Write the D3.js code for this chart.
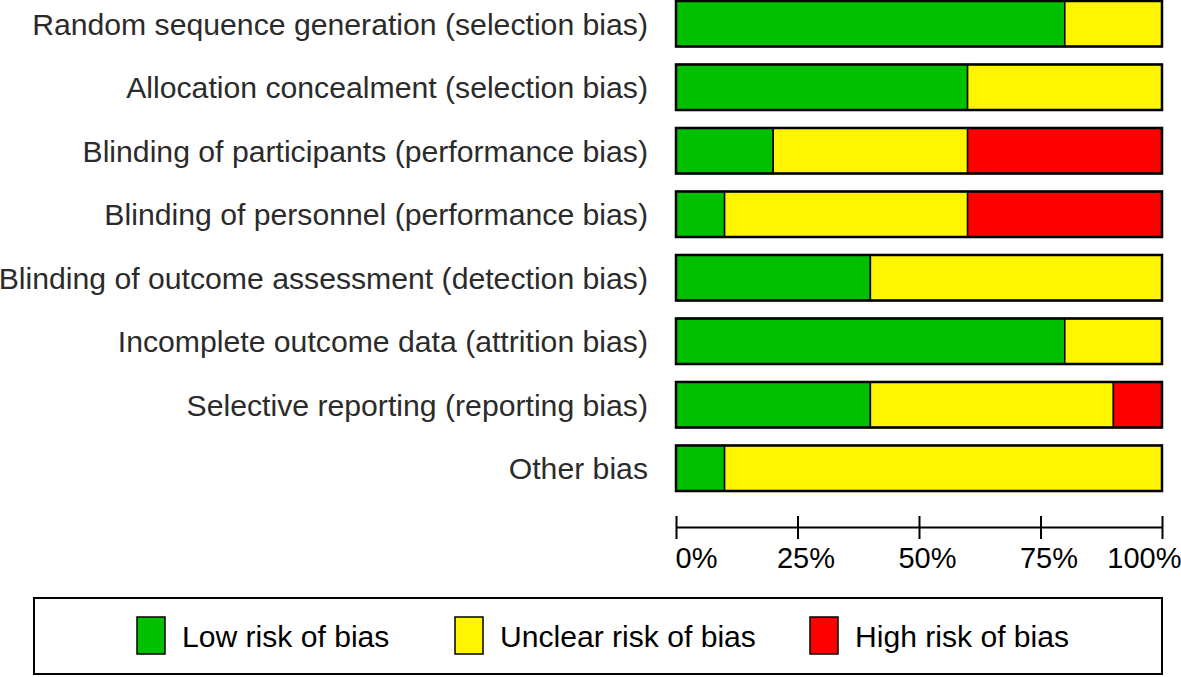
<!DOCTYPE html>
<html>
<head>
<meta charset="utf-8">
<script src="https://cdn.jsdelivr.net/npm/d3@7"></script>
<style>
  html, body { margin: 0; padding: 0; background: #fff; }
  svg { display: block; font-family: Arial, "Liberation Sans", sans-serif; }
</style>
</head>
<body>
<svg id="chart" width="1181" height="677"></svg>
<script>
const categories = [
  "Random sequence generation (selection bias)",
  "Allocation concealment (selection bias)",
  "Blinding of participants (performance bias)",
  "Blinding of personnel (performance bias)",
  "Blinding of outcome assessment (detection bias)",
  "Incomplete outcome data (attrition bias)",
  "Selective reporting (reporting bias)",
  "Other bias"
];
const lowRisk     = [80, 60, 20, 10, 40, 80, 40, 10];
const unclearRisk = [20, 40, 40, 50, 60, 20, 50, 90];
const highRisk    = [ 0,  0, 40, 40,  0,  0, 10,  0];
const seriesNames = ["Low risk of bias", "Unclear risk of bias", "High risk of bias"];
const seriesColors = ["#00C000", "#FFF500", "#FF0000"];
const tickValues = [0, 25, 50, 75, 100];
const tickLabels = ["0%", "25%", "50%", "75%", "100%"];

const svg = d3.select("#chart");

const x = d3.scaleLinear().domain([0, 100]).range([676, 1162]);
const y = d3.scaleBand().domain(categories).range([-8, 500]).paddingInner(0.283).paddingOuter(0.1415);

const stackData = categories.map((c, i) => ({ cat: c, low: lowRisk[i], unclear: unclearRisk[i], high: highRisk[i] }));
const stacked = d3.stack().keys(["low", "unclear", "high"])(stackData);

// segments
svg.append("g").selectAll("g")
  .data(stacked)
  .join("g")
  .attr("fill", (d, i) => seriesColors[i])
  .selectAll("rect")
  .data(d => d.filter(s => s[1] - s[0] > 0))
  .join("rect")
  .attr("x", d => x(d[0]))
  .attr("y", d => y(d.data.cat))
  .attr("width", d => x(d[1]) - x(d[0]))
  .attr("height", y.bandwidth())
  .attr("stroke", "#000")
  .attr("stroke-width", 1.5);

// outer bar borders
svg.append("g").selectAll("rect")
  .data(stackData)
  .join("rect")
  .attr("x", x(0))
  .attr("y", d => y(d.cat))
  .attr("width", x(100) - x(0))
  .attr("height", y.bandwidth())
  .attr("fill", "none")
  .attr("stroke", "#000")
  .attr("stroke-width", 2.5);

// category labels
svg.append("g").selectAll("text")
  .data(categories)
  .join("text")
  .attr("x", 648)
  .attr("y", d => y(d) + y.bandwidth() / 2)
  .attr("dy", "0.36em")
  .attr("text-anchor", "end")
  .attr("font-size", 30.2)
  .attr("fill", "#2b2b2b")
  .text(d => d);

// axis
const axisY = 527;
const axis = d3.axisBottom(x)
  .tickValues(tickValues)
  .tickFormat((d, i) => tickLabels[i])
  .tickSizeInner(12)
  .tickSizeOuter(0)
  .tickPadding(0);
const ag = svg.append("g").attr("transform", `translate(0,${axisY})`).call(axis);
ag.select(".domain").attr("stroke", "#000").attr("stroke-width", 2);
ag.selectAll(".tick line").attr("y1", -11).attr("y2", 12).attr("stroke", "#000").attr("stroke-width", 2);
ag.selectAll(".tick text")
  .attr("font-size", 29)
  .attr("font-family", "Arial, 'Liberation Sans', sans-serif")
  .attr("fill", "#000")
  .attr("y", 41)
  .attr("dy", 0)
  .attr("text-anchor", (d, i) => i === 0 ? "start" : (i === tickValues.length - 1 ? "end" : "middle"))
  .attr("dx", (d, i) => i === 0 ? -1 : (i === tickValues.length - 1 ? 19 : 8));

// legend
const lg = svg.append("g");
lg.append("rect")
  .attr("x", 34).attr("y", 598).attr("width", 1128).attr("height", 76)
  .attr("fill", "none").attr("stroke", "#000").attr("stroke-width", 2);
const legendX = [137, 455, 810];
const items = lg.selectAll("g.item")
  .data(seriesNames)
  .join("g")
  .attr("class", "item")
  .attr("transform", (d, i) => `translate(${legendX[i]},617)`);
items.append("rect")
  .attr("width", 28).attr("height", 37)
  .attr("fill", (d, i) => seriesColors[i])
  .attr("stroke", "#000").attr("stroke-width", 1.5);
items.append("text")
  .attr("x", 45).attr("y", 19)
  .attr("dy", "0.36em")
  .attr("font-size", 30.1)
  .attr("fill", "#000")
  .text(d => d);
</script>
</body>
</html>
